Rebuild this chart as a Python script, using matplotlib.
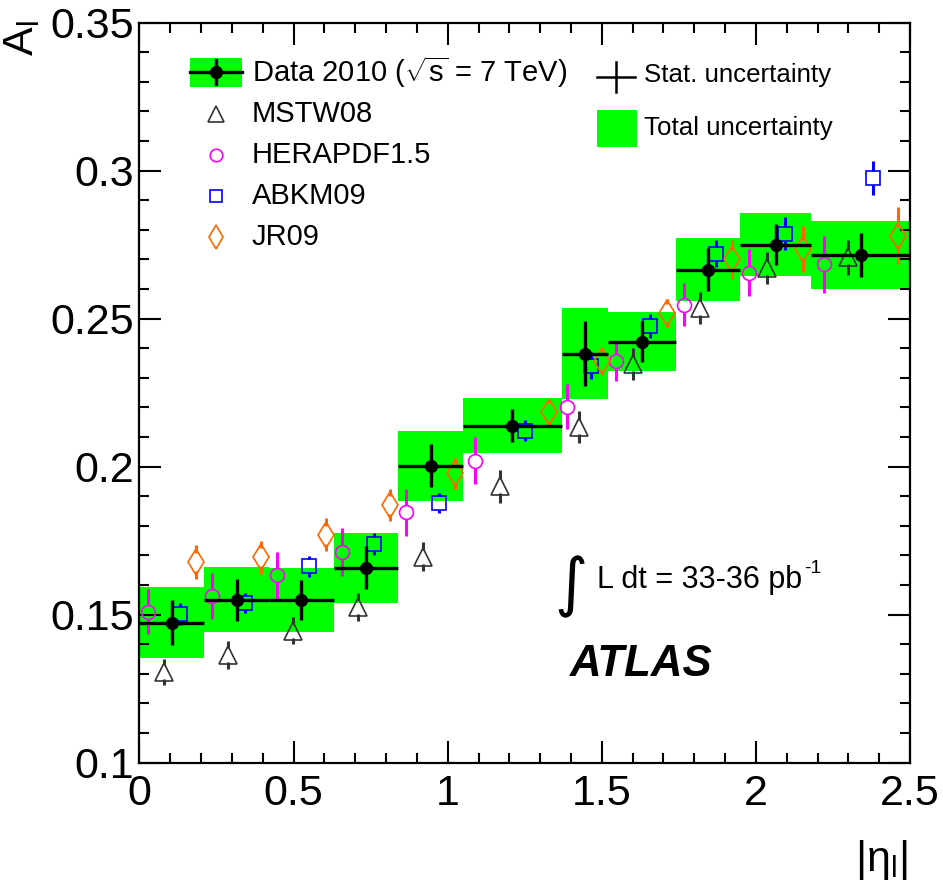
import matplotlib
matplotlib.use("Agg")
import matplotlib.pyplot as plt
from matplotlib.patches import Rectangle
import numpy as np

plt.rcParams["font.family"] = ["Liberation Sans", "DejaVu Sans"]
plt.rcParams["mathtext.fontset"] = "custom"
plt.rcParams["mathtext.rm"] = "Liberation Sans"
plt.rcParams["mathtext.it"] = "Liberation Sans:italic"
plt.rcParams["mathtext.bf"] = "Liberation Sans:bold"

# |eta| bin edges
edges = [0.0, 0.21, 0.42, 0.63, 0.84, 1.05, 1.37, 1.52, 1.74, 1.95, 2.18, 2.5]

# measured asymmetry, stat and total uncertainty
data_val = [0.1473, 0.1550, 0.1550, 0.1659, 0.2003, 0.2139, 0.2382, 0.2422, 0.2666, 0.2750, 0.2716]
data_stat = [0.0076, 0.0071, 0.0068, 0.0072, 0.0072, 0.0057, 0.0111, 0.0070, 0.0072, 0.0070, 0.0074]
data_tot = [0.0120, 0.0110, 0.0108, 0.0118, 0.0118, 0.0093, 0.0155, 0.0100, 0.0106, 0.0106, 0.0115]

# predictions
mstw_val = [0.1305, 0.1364, 0.1446, 0.1527, 0.1696, 0.1934, 0.2133, 0.2347, 0.2536, 0.2671, 0.2707]
mstw_err = [0.0044, 0.0046, 0.0045, 0.0047, 0.0050, 0.0056, 0.0054, 0.0055, 0.0055, 0.0053, 0.0059]
hera_val = [0.1510, 0.1562, 0.1633, 0.1712, 0.1846, 0.2020, 0.2203, 0.2358, 0.2547, 0.2655, 0.2683]
hera_err = [0.0076, 0.0078, 0.0079, 0.0082, 0.0079, 0.0080, 0.0075, 0.0067, 0.0072, 0.0079, 0.0097]
abkm_val = [0.1502, 0.1540, 0.1663, 0.1739, 0.1877, 0.2122, 0.2341, 0.2476, 0.2720, 0.2787, 0.2975]
abkm_err = [0.0037, 0.0034, 0.0035, 0.0038, 0.0034, 0.0035, 0.0046, 0.0040, 0.0047, 0.0055, 0.0058]
jr_val = [0.1677, 0.1694, 0.1770, 0.1872, 0.1977, 0.2183, 0.2356, 0.2519, 0.2700, 0.2735, 0.2780]
jr_err = [0.0058, 0.0056, 0.0056, 0.0054, 0.0052, 0.0046, 0.0046, 0.0048, 0.0065, 0.0078, 0.0096]

GREEN = "#00ff00"

fig = plt.figure(figsize=(9.43, 8.92), dpi=100)
ax = fig.add_axes([0.1479, 0.1450, 0.8171, 0.8296])
ax.set_xlim(0, 2.5)
ax.set_ylim(0.1, 0.35)

lo = np.array(edges[:-1])
hi = np.array(edges[1:])
width = hi - lo
mid = 0.5 * (lo + hi)

# total uncertainty boxes
for l, w, v, t in zip(lo, width, data_val, data_tot):
    ax.add_patch(Rectangle((l, v - t), w, 2 * t, facecolor=GREEN, edgecolor="none", zorder=1))

px_per_unit = ax.bbox.height / 0.25


def draw_model(frac, vals, errs, marker, color, ms, gap_px):
    # open marker, error bar stops at the marker edge
    x = lo + frac * width
    gap = gap_px / px_per_unit
    for xi, v, e in zip(x, vals, errs):
        if e > gap:
            ax.plot([xi, xi], [v + gap, v + e], color=color, lw=2.2, solid_capstyle="butt", zorder=3)
            ax.plot([xi, xi], [v - e, v - gap], color=color, lw=2.2, solid_capstyle="butt", zorder=3)
    ax.plot(x, vals, linestyle="none", marker=marker, mfc="none", mec=color,
            ms=ms, mew=1.2, zorder=4)


draw_model(0.125, hera_val, hera_err, "o", "#ff00ff", 10, 7)
draw_model(0.375, mstw_val, mstw_err, "^", "#333333", 13, 7)
draw_model(0.625, abkm_val, abkm_err, "s", "#0000ff", 10, 7)
draw_model(0.875, jr_val, jr_err, "d", "#ff6600", 13, 9)

# data
ax.hlines(data_val, lo, hi, color="black", lw=2.4, zorder=5)
ax.vlines(mid, np.array(data_val) - data_stat, np.array(data_val) + data_stat,
          color="black", lw=2.4, zorder=5)
ax.plot(mid, data_val, "o", color="black", ms=8.5, zorder=6)

# axes style
ax.set_xticks(np.arange(0, 2.51, 0.5))
ax.set_xticklabels(["0", "0.5", "1", "1.5", "2", "2.5"])
ax.set_xticks(np.arange(0, 2.51, 0.1), minor=True)
ax.set_yticks([0.1, 0.15, 0.2, 0.25, 0.3, 0.35])
ax.set_yticklabels(["0.1", "0.15", "0.2", "0.25", "0.3", "0.35"])
ax.set_yticks(np.arange(0.1, 0.351, 0.01), minor=True)
ax.tick_params(which="both", direction="in", top=True, right=True, width=1.5, labelsize=31)
ax.tick_params(which="major", length=16)
ax.tick_params(which="minor", length=7.5)
ax.tick_params(axis="y", pad=4)
ax.tick_params(axis="x", pad=8)
for s in ax.spines.values():
    s.set_linewidth(1.6)

ax.text(2 / 943, 1 - 20 / 892, r"A$_{\mathrm{l}}$", transform=fig.transFigure, rotation=90,
        ha="left", va="top", fontsize=31)
fig.text(908 / 943, 1 - 838 / 892, r"|η$_{\mathrm{l}}$|", ha="right", va="top", fontsize=31)

# left legend
T = ax.transAxes
ax.add_patch(Rectangle((0.0655, 0.9135), 0.0675, 0.0388, transform=T, facecolor=GREEN,
                       edgecolor="none", clip_on=False, zorder=7))
ax.plot([0.0655, 0.133], [0.9334, 0.9334], transform=T, color="black", lw=2.4, zorder=8)
ax.plot([0.0989, 0.0989], [0.917, 0.949], transform=T, color="black", lw=2.4, zorder=8)
ax.plot([0.0989], [0.9334], "o", transform=T, color="black", ms=8.5, zorder=9)

leg_rows = [0.9334, 0.8766, 0.8212, 0.7658, 0.710]
leg_labels = [r"Data 2010 ($\sqrt{\mathrm{s}}$ = 7 TeV)", "MSTW08", "HERAPDF1.5", "ABKM09", "JR09"]
leg_styles = [None, ("^", "#333333", 11), ("o", "#ff00ff", 9), ("s", "#0000ff", 9), ("d", "#ff6600", 12)]
for yy, lab, st in zip(leg_rows, leg_labels, leg_styles):
    ax.text(0.146, yy, lab, transform=T, ha="left", va="center", fontsize=21)
    if st is not None:
        ax.plot([0.0989], [yy], linestyle="none", marker=st[0], mfc="none", mec=st[1],
                ms=st[2], mew=1.2, transform=T)

# right legend
ax.plot([0.594, 0.643], [0.927, 0.927], transform=T, color="black", lw=1.8)
ax.plot([0.618, 0.618], [0.9068, 0.9473], transform=T, color="black", lw=1.8)
ax.text(0.655, 0.929, "Stat. uncertainty", transform=T, ha="left", va="center", fontsize=18.6)
ax.add_patch(Rectangle((0.594, 0.8324), 0.0519, 0.0496, transform=T, facecolor=GREEN,
                       edgecolor="none"))
ax.text(0.655, 0.858, "Total uncertainty", transform=T, ha="left", va="center", fontsize=18.6)

# luminosity and label
ax.text(0.538, 0.237, "∫", transform=T, ha="left", va="center", fontsize=46, family="DejaVu Sans")
ax.text(0.594, 0.247, "L dt = 33-36 pb", transform=T, ha="left", va="center", fontsize=22)
ax.text(0.863, 0.262, "-1", transform=T, ha="left", va="center", fontsize=14)
ax.text(0.559, 0.132, "ATLAS", transform=T, ha="left", va="center", fontsize=31.5,
        fontweight="bold", fontstyle="italic")

fig.savefig("out.png", dpi=100)
